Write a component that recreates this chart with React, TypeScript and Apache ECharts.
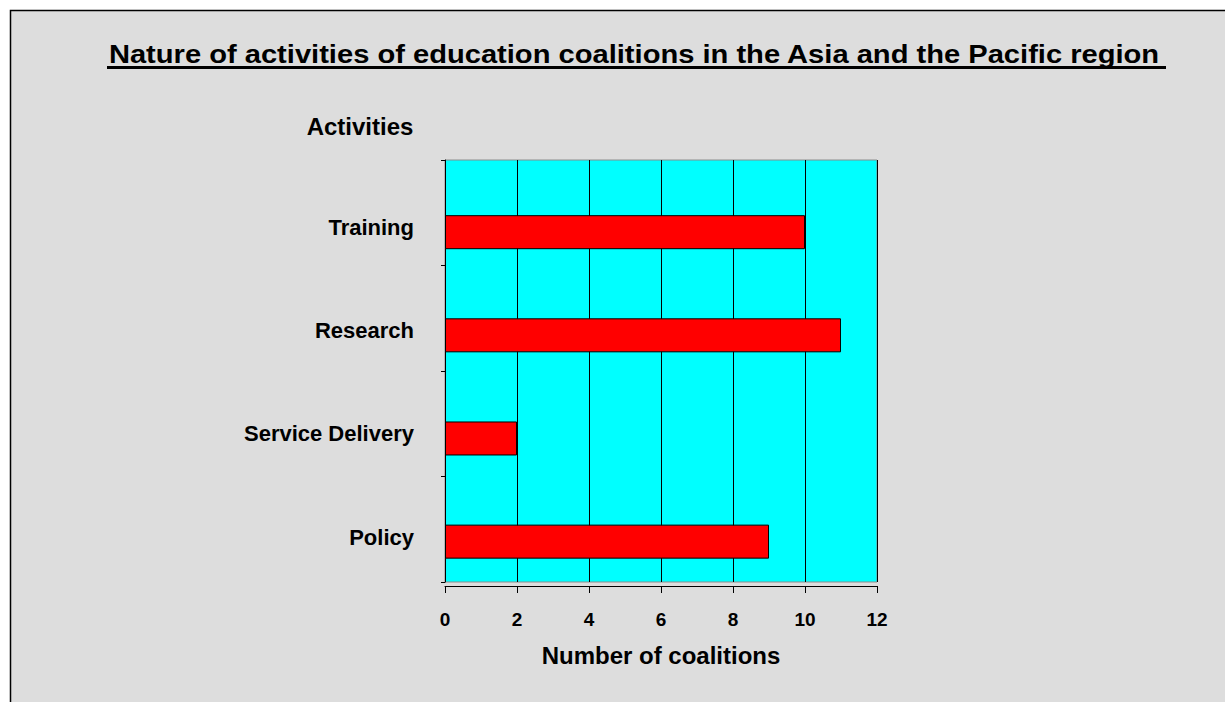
import React, { useEffect, useRef } from "react";
import * as echarts from "echarts";

const categories = ["Training", "Research", "Service Delivery", "Policy"];
const coalitions = [10, 11, 2, 9];
const xMin = 0;
const xMax = 12;
const xInterval = 2;
const titleText = "Nature of activities of education coalitions in the Asia and the Pacific region";
const yAxisTitle = "Activities";
const xAxisTitle = "Number of coalitions";

const FONT = "'Liberation Sans', Arial, Helvetica, sans-serif";

export default function App() {
  const ref = useRef<HTMLDivElement>(null);
  useEffect(() => {
    document.body.style.margin = "0";
    document.body.style.overflow = "hidden";
    const chart = echarts.init(ref.current as HTMLDivElement, null, { renderer: "svg" });
    chart.setOption({
      animation: false,
      backgroundColor: "#ffffff",
      graphic: [
        {
          type: "rect",
          z: -100,
          shape: { x: 10.5, y: 10.5, width: 1300, height: 800 },
          style: { fill: "#DDDDDD", stroke: "#000000", lineWidth: 1.5 },
        },
        {
          type: "text",
          x: 634,
          y: 54,
          scaleX: 1.165,
          style: {
            text: titleText,
            font: `bold 25px ${FONT}`,
            align: "center",
            verticalAlign: "middle",
            fill: "#000000",
          },
        },
        {
          type: "rect",
          shape: { x: 107, y: 66, width: 1059, height: 3 },
          style: { fill: "#000000" },
        },
        {
          type: "text",
          x: 360,
          y: 126,
          style: {
            text: yAxisTitle,
            font: `bold 24px ${FONT}`,
            align: "center",
            verticalAlign: "middle",
            fill: "#000000",
          },
        },
      ],
      grid: [
        {
          left: 445,
          top: 160,
          width: 432,
          height: 422,
          show: true,
          backgroundColor: "#00FFFF",
          borderColor: "#8c8c8c",
          borderWidth: 1,
        },
        { left: 445, top: 180.6, width: 432, height: 412.6 },
      ],
      xAxis: [
        {
          gridIndex: 0,
          type: "value",
          min: xMin,
          max: xMax,
          interval: xInterval,
          offset: 4,
          axisLine: { show: true, lineStyle: { color: "#000000", width: 1 } },
          axisTick: { show: true, length: 7, lineStyle: { color: "#000000", width: 1 } },
          splitLine: { show: true, lineStyle: { color: "#000000", width: 1 } },
          axisLabel: {
            fontSize: 19,
            fontWeight: "bold",
            color: "#000000",
            fontFamily: FONT,
            margin: 24,
          },
          name: xAxisTitle,
          nameLocation: "middle",
          nameGap: 57,
          nameTextStyle: { fontSize: 24, fontWeight: "bold", color: "#000000", fontFamily: FONT },
        },
        { gridIndex: 1, type: "value", min: xMin, max: xMax, show: false },
      ],
      yAxis: [
        {
          gridIndex: 0,
          type: "category",
          data: categories,
          inverse: true,
          axisLine: { show: true, lineStyle: { color: "#000000", width: 1 } },
          axisTick: { show: true, length: 4, lineStyle: { color: "#000000" } },
          axisLabel: { show: false },
          splitLine: { show: false },
        },
        {
          gridIndex: 1,
          type: "category",
          data: categories,
          inverse: true,
          axisLine: { show: false },
          axisTick: { show: false },
          splitLine: { show: false },
          axisLabel: {
            fontSize: 22,
            fontWeight: "bold",
            color: "#000000",
            fontFamily: FONT,
            margin: 31,
            verticalAlign: "bottom",
            lineHeight: 9,
          },
        },
      ],
      series: [
        {
          type: "bar",
          xAxisIndex: 1,
          yAxisIndex: 1,
          data: coalitions,
          barWidth: 34,
          itemStyle: { color: "#FF0000", borderColor: "#000000", borderWidth: 1 },
        },
      ],
    });
    return () => chart.dispose();
  }, []);
  return <div ref={ref} style={{ width: 1225, height: 702 }} />;
}
